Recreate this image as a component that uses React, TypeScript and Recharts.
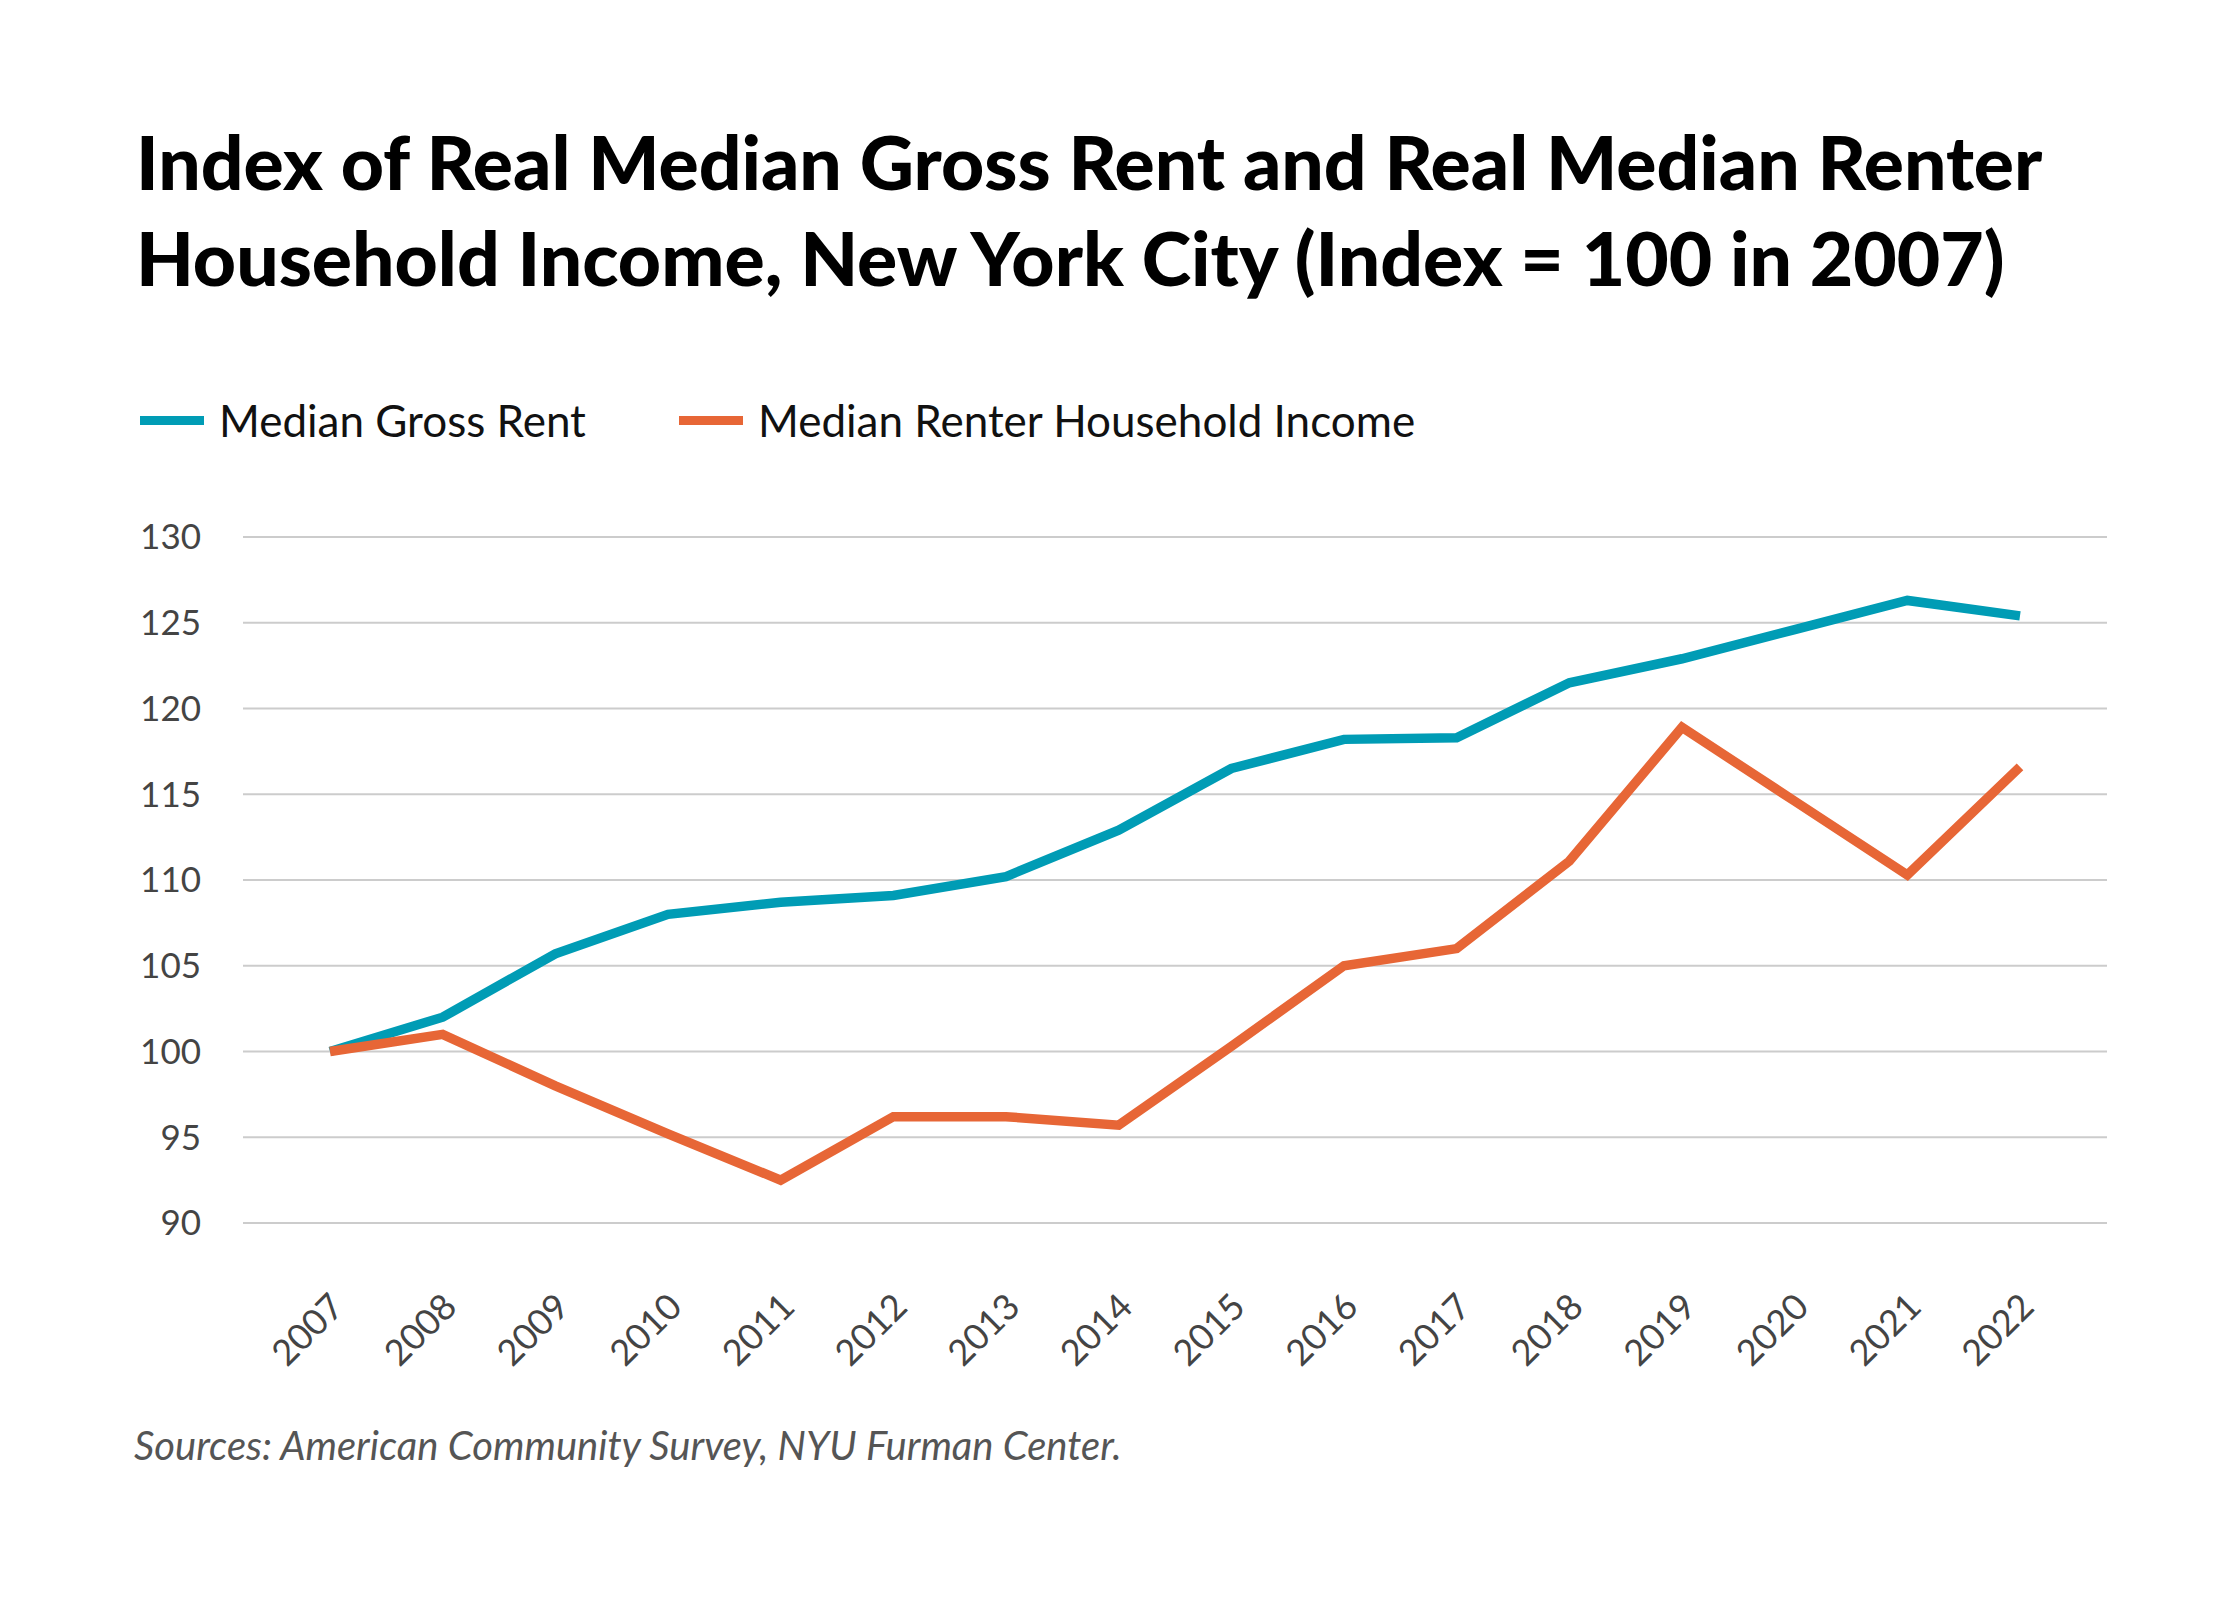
import React from "react";
import { CartesianGrid, Legend, Line, LineChart, XAxis, YAxis } from "recharts";

// Index = 100 in 2007
const years = ["2007", "2008", "2009", "2010", "2011", "2012", "2013", "2014", "2015", "2016", "2017", "2018", "2019", "2020", "2021", "2022"];
const grossRent = [100, 102.0, 105.7, 108.0, 108.7, 109.1, 110.2, 112.9, 116.5, 118.2, 118.3, 121.5, 122.9, 124.6, 126.3, 125.4];
const renterIncome = [100, 101.0, 98.0, 95.2, 92.5, 96.2, 96.2, 95.7, 100.3, 105.0, 106.0, 111.1, 118.9, 114.6, 110.3, 116.6];
const yTicks = [90, 95, 100, 105, 110, 115, 120, 125, 130];

const BLUE = "#009cb5";
const ORANGE = "#e76636";
const FONT = "Lato, 'Open Sans', sans-serif";

const data = years.map((year, i) => ({
  year,
  rent: grossRent[i],
  income: renterIncome[i],
}));

const XTick = (props: any) => {
  const { x, y, payload } = props;
  return (
    <g transform={`translate(${x + 16},${y + 84})`}>
      <text
        textAnchor="end"
        transform="rotate(-45)"
        fill="#444"
        fontSize={36}
        fontFamily={FONT}
      >
        {payload.value}
      </text>
    </g>
  );
};

const LegendContent = (props: any) => {
  const items = props.payload || [];
  const lefts = [140, 679];
  return (
    <div style={{ position: "relative", width: 2240, height: 60 }}>
      {items.map((item: any, i: number) => (
        <div
          key={item.value}
          style={{
            position: "absolute",
            left: lefts[i],
            top: 0,
            height: 50,
            display: "flex",
            alignItems: "center",
          }}
        >
          <svg width={64} height={9} style={{ marginRight: 15 }}>
            <rect x={0} y={0} width={64} height={9} fill={item.color} />
          </svg>
          <span style={{ fontFamily: FONT, fontSize: 44, color: "#111" }}>
            {item.value}
          </span>
        </div>
      ))}
    </div>
  );
};

const App = () => {
  return (
    <div
      style={{
        position: "absolute",
        left: 0,
        top: 0,
        width: 2240,
        height: 1600,
        background: "#fff",
        fontFamily: FONT,
        overflow: "hidden",
      }}
    >
      {/* Title */}
      <div
        style={{
          position: "absolute",
          left: 136,
          top: 113,
          fontSize: 75,
          lineHeight: "96px",
          fontWeight: 900,
          color: "#000",
          whiteSpace: "nowrap",
        }}
      >
        Index of Real Median Gross Rent and Real Median Renter
        <br />
        Household Income, New York City (Index = 100 in 2007)
      </div>

      <div style={{ position: "absolute", left: 0, top: 0 }}>
        <LineChart
          width={2240}
          height={1600}
          data={data}
          margin={{ top: 537, right: 133, bottom: 277, left: 143 }}
        >
          <CartesianGrid vertical={false} stroke="#cccccc" strokeWidth={2} />
          <XAxis
            dataKey="year"
            axisLine={false}
            tickLine={false}
            tickSize={0}
            interval={0}
            height={100}
            padding={{ left: 87, right: 87 }}
            tick={<XTick />}
          />
          <YAxis
            domain={[90, 130]}
            ticks={yTicks}
            axisLine={false}
            tickLine={false}
            tickSize={0}
            tickMargin={42}
            width={100}
            tick={{ fill: "#444", fontSize: 35, fontFamily: FONT }}
          />
          <Legend
            layout="horizontal"
            verticalAlign="middle"
            align="center"
            wrapperStyle={{ top: 395, left: 0, width: 2240 }}
            content={<LegendContent />}
          />
          <Line
            type="linear"
            dataKey="rent"
            name="Median Gross Rent"
            stroke={BLUE}
            strokeWidth={9.5}
            strokeLinejoin="miter"
            dot={false}
            activeDot={false}
            isAnimationActive={false}
          />
          <Line
            type="linear"
            dataKey="income"
            name="Median Renter Household Income"
            stroke={ORANGE}
            strokeWidth={9.5}
            strokeLinejoin="miter"
            dot={false}
            activeDot={false}
            isAnimationActive={false}
          />
        </LineChart>
      </div>

      {/* Source note */}
      <div
        style={{
          position: "absolute",
          left: 134,
          top: 1421,
          fontSize: 40,
          fontStyle: "italic",
          color: "#555",
          whiteSpace: "nowrap",
        }}
      >
        Sources: American Community Survey, NYU Furman Center.
      </div>
    </div>
  );
};

export default App;
